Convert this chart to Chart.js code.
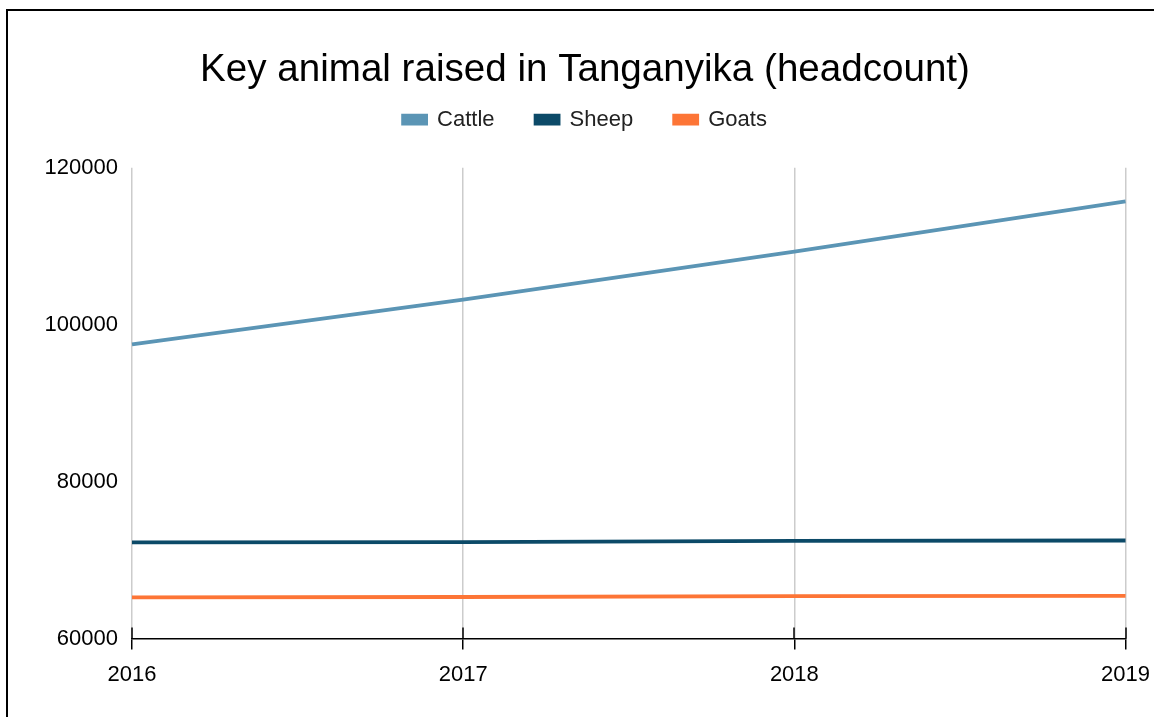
<!DOCTYPE html>
<html>
<head>
<meta charset="utf-8">
<script src="https://cdn.jsdelivr.net/npm/chart.js@4.4.0/dist/chart.umd.min.js"></script>
<style>
  html, body { margin: 0; padding: 0; background: #fff; overflow: hidden; }
  #frame {
    position: absolute; left: 6px; top: 9px;
    width: 1154px; height: 710px;
    border: 2px solid #000; background: #fff;
  }
  #frame canvas { display: block; }
</style>
</head>
<body>
<div id="frame"><canvas id="line-chart" width="1154" height="710"></canvas></div>
<script>
var years = ['2016', '2017', '2018', '2019']
var cattle = [97500, 103200, 109300, 115700]
var sheep = [72250, 72300, 72450, 72500]
var goats = [65250, 65300, 65400, 65450]
var yTicks = [60000, 80000, 100000, 120000]

var fontName = '"Liberation Sans", Arial, sans-serif'

// black tick marks that cross the x axis line
var crossTicks = {
    id: 'crossTicks',
    afterDraw: function (chart) {
        var xs = chart.scales.x
        var ctx = chart.ctx
        var y0 = chart.chartArea.bottom
        ctx.save()
        ctx.strokeStyle = '#000'
        ctx.lineWidth = 1.5
        for (var i = 0; i < xs.ticks.length; i++) {
            var px = Math.round(xs.getPixelForTick(i))
            ctx.beginPath()
            ctx.moveTo(px, y0 - 11)
            ctx.lineTo(px, y0)
            ctx.stroke()
        }
        ctx.restore()
    }
}

myLineChart = new Chart(document.getElementById('line-chart'), {
    type: 'line',
    data: {
        labels: years,
        datasets: [{
            data: cattle,
            label: 'Cattle',
            borderColor: '#5b95b5',
            backgroundColor: '#5b95b5',
            borderWidth: 3.8,
            pointRadius: 0,
            fill: false
        }, {
            data: sheep,
            label: 'Sheep',
            borderColor: '#0c4a68',
            backgroundColor: '#0c4a68',
            borderWidth: 3.8,
            pointRadius: 0,
            fill: false
        }, {
            data: goats,
            label: 'Goats',
            borderColor: '#fd7536',
            backgroundColor: '#fd7536',
            borderWidth: 3.8,
            pointRadius: 0,
            fill: false
        }]
    },
    options: {
        responsive: false,
        maintainAspectRatio: false,
        animation: false,
        layout: { padding: { left: 35, right: 35, top: 10, bottom: 21 } },
        plugins: {
            title: {
                display: true,
                text: 'Key animal raised in Tanganyika (headcount)',
                color: '#000',
                font: { family: fontName, size: 38.6, weight: 'normal' },
                padding: { top: 26, bottom: -25.6 }
            },
            // empty spacer between the legend and the plot
            subtitle: {
                display: true,
                text: '',
                weight: 500,
                font: { size: 10, lineHeight: 1.2 },
                padding: { top: 15, bottom: 0 }
            },
            legend: {
                display: true,
                position: 'top',
                labels: {
                    color: '#222',
                    font: { family: fontName, size: 22 },
                    boxWidth: 23,
                    boxHeight: 8,
                    padding: 41
                }
            },
            tooltip: { enabled: false }
        },
        scales: {
            x: {
                grid: {
                    color: '#cccccc',
                    lineWidth: 1.5,
                    tickColor: '#000',
                    tickLength: 11,
                    drawTicks: true
                },
                border: { color: '#000', width: 1.5 },
                ticks: {
                    color: '#000',
                    font: { family: fontName, size: 22 },
                    padding: 12,
                    maxRotation: 0
                }
            },
            y: {
                min: yTicks[0],
                max: yTicks[yTicks.length - 1],
                afterFit: function (scale) { scale.width = 89 },
                afterBuildTicks: function (scale) {
                    scale.ticks = yTicks.map(function (v) { return { value: v } })
                },
                grid: { display: false, drawTicks: false },
                border: { display: false },
                ticks: {
                    color: '#000',
                    font: { family: fontName, size: 22 },
                    padding: 14,
                    callback: function (v) { return String(v) }
                }
            }
        }
    },
    plugins: [crossTicks]
});
</script>
</body>
</html>
